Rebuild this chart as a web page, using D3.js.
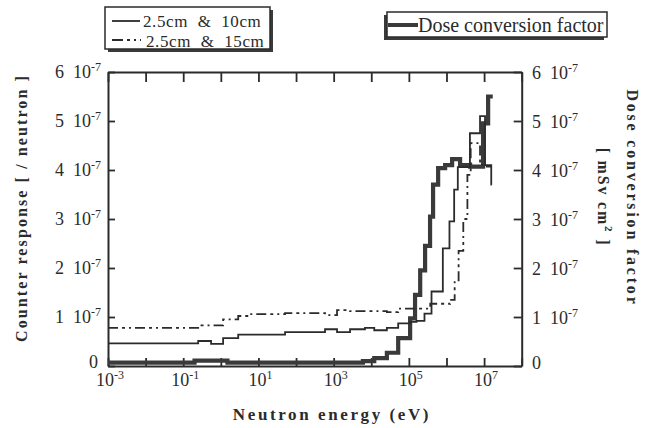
<!DOCTYPE html>
<html>
<head>
<meta charset="utf-8">
<script src="https://cdn.jsdelivr.net/npm/d3@7"></script>
<style>
body { margin: 0; background: #fff; }
text { font-family: "Liberation Serif", "Times New Roman", serif; fill: #2b2b2b; white-space: pre; }
</style>
</head>
<body>
<svg id="chart" width="654" height="428"></svg>
<script>
// 2.5cm & 10cm response (units of 1e-7), step bins in eV
const solidEdges = [1e-3, 0.25, 0.55, 1.15, 2.9, 51, 590, 1230, 2730, 6800, 1.2e4, 2.6e4, 5.2e4, 1.08e5, 1.6e5, 2.6e5, 4e5, 8e5, 1.2e6, 1.6e6, 2e6, 4.2e6, 7.8e6, 1.06e7, 1.55e7, 1.6e7];
const solidValues = [0.46, 0.51, 0.45, 0.57, 0.64, 0.69, 0.75, 0.69, 0.75, 0.78, 0.73, 0.78, 0.87, 0.9, 0.92, 1.07, 1.52, 2.4, 2.95, 3.6, 4.06, 4.75, 5.1, 4.1, 3.7];

// 2.5cm & 15cm response
const dashEdges = [1e-3, 0.25, 1.15, 2.9, 6, 51, 590, 1230, 2730, 2.6e4, 5.2e4, 3.7e5, 1.25e6, 1.65e6, 2.1e6, 2.8e6, 3.6e6, 4.4e6, 7.8e6, 1.06e7, 1.6e7];
const dashValues = [0.78, 0.83, 0.95, 1.02, 1.06, 1.08, 1.04, 1.14, 1.12, 1.1, 1.17, 1.27, 1.35, 1.75, 2.35, 3.0, 3.9, 4.55, 4.1, 4.07];

// dose conversion factor (mSv cm2, units of 1e-7)
const doseEdges = [1e-3, 0.2, 1.5, 6000, 1.2e4, 2.6e4, 5.2e4, 1.08e5, 1.46e5, 2e5, 2.7e5, 3.66e5, 4.4e5, 6e5, 9.2e5, 1.41e6, 2.3e6, 4.25e6, 9.4e6, 1.28e7, 1.7e7];
const doseValues = [0.07, 0.11, 0.07, 0.1, 0.16, 0.27, 0.57, 0.97, 1.45, 1.95, 2.45, 3.05, 3.7, 4.04, 4.1, 4.22, 4.1, 4.07, 4.95, 5.5];

const yTicks = [0, 1, 2, 3, 4, 5, 6];
const xTickExps = [-3, -2, -1, 0, 1, 2, 3, 4, 5, 6, 7, 8];
const xLabelExps = [-3, -1, 1, 3, 5, 7];
const legendLabels = ["2.5cm  &  10cm", "2.5cm  &  15cm"];
const doseLabel = "Dose conversion factor";

const ink = "#2b2b2b";
const svg = d3.select("#chart");

const x = d3.scaleLog().domain([1e-3, 1e8]).range([108, 521.7]);
const y = d3.scaleLinear().domain([0, 6]).range([366, 72]);

// axes, ticks pointing inward
const xTickVals = xTickExps.map(e => Math.pow(10, e));
function styleAxis(g) {
    g.select(".domain").attr("stroke", ink).attr("stroke-width", 2);
    g.selectAll(".tick line").attr("stroke", ink).attr("stroke-width", 1.8);
}
svg.append("g").attr("transform", "translate(0,366)")
    .call(d3.axisBottom(x).tickValues(xTickVals).tickSize(-8).tickSizeOuter(0).tickFormat(""))
    .call(styleAxis);
svg.append("g").attr("transform", "translate(0,72)")
    .call(d3.axisTop(x).tickValues(xTickVals).tickSize(-10).tickSizeOuter(0).tickFormat(""))
    .call(styleAxis);
svg.append("g").attr("transform", "translate(108,0)")
    .call(d3.axisLeft(y).tickValues(yTicks).tickSize(-7).tickSizeOuter(0).tickFormat(""))
    .call(styleAxis);
svg.append("g").attr("transform", "translate(521.7,0)")
    .call(d3.axisRight(y).tickValues(yTicks).tickSize(-8).tickSizeOuter(0).tickFormat(""))
    .call(styleAxis);

// tick labels
function yLabel(sel, v) {
    if (v === 0) { sel.text("0"); return; }
    sel.append("tspan").text(v + "  10");
    sel.append("tspan").attr("dy", -7).attr("font-size", 12).text("-7");
}
yTicks.forEach(v => {
    const dy = v === 0 ? 2 : 6;
    svg.append("text").attr("x", v === 0 ? 98 : 101).attr("y", y(v) + dy)
        .attr("text-anchor", "end").attr("font-size", 18)
        .call(s => yLabel(s, v));
    svg.append("text").attr("x", 532).attr("y", y(v) + dy + 1)
        .attr("font-size", 18)
        .call(s => yLabel(s, v));
});
xLabelExps.forEach(e => {
    const t = svg.append("text").attr("x", x(Math.pow(10, e)) + 2).attr("y", 386)
        .attr("text-anchor", "middle").attr("font-size", 18);
    t.append("tspan").text("10");
    t.append("tspan").attr("dy", -7).attr("font-size", 12).text(e < 0 ? "-" + (-e) : String(e));
});

// step curves
function stepPoints(edges, values) {
    const pts = values.map((v, i) => [edges[i], v]);
    pts.push([edges[edges.length - 1], values[values.length - 1]]);
    return pts;
}
const line = d3.line().x(d => x(d[0])).y(d => y(d[1])).curve(d3.curveStepAfter);

svg.append("path").datum(stepPoints(doseEdges, doseValues))
    .attr("d", line).attr("fill", "none").attr("stroke", "#3a3a3a").attr("stroke-width", 4.2);
svg.append("path").datum(stepPoints(solidEdges, solidValues))
    .attr("d", line).attr("fill", "none").attr("stroke", ink).attr("stroke-width", 1.8);
svg.append("path").datum(stepPoints(dashEdges, dashValues))
    .attr("d", line).attr("fill", "none").attr("stroke", ink).attr("stroke-width", 1.8)
    .attr("stroke-dasharray", "10,4,3,4,2,4");

// axis titles
svg.append("text").attr("transform", "translate(27,208) rotate(-90)")
    .attr("text-anchor", "middle").attr("font-size", 16).attr("font-weight", "bold")
    .attr("letter-spacing", 2.1).text("Counter response [ / neutron ]");
svg.append("text").attr("x", 332).attr("y", 420)
    .attr("text-anchor", "middle").attr("font-size", 17).attr("font-weight", "bold")
    .attr("letter-spacing", 2.6).text("Neutron energy (eV)");
svg.append("text").attr("transform", "translate(627,198) rotate(90)")
    .attr("text-anchor", "middle").attr("font-size", 16).attr("font-weight", "bold")
    .attr("letter-spacing", 2.8).text("Dose conversion factor");
const sub = svg.append("text").attr("transform", "translate(598,197) rotate(90)")
    .attr("text-anchor", "middle").attr("font-size", 16).attr("font-weight", "bold")
    .attr("letter-spacing", 1.8);
sub.append("tspan").text("[ mSv cm");
sub.append("tspan").attr("dy", -7).attr("font-size", 11).text("2");
sub.append("tspan").attr("dy", 7).text(" ]");

// legend boxes with drop shadows
function legendBox(x0, y0, w, h, dx, dy) {
    svg.append("rect").attr("x", x0 + dx).attr("y", y0 + dy).attr("width", w).attr("height", h).attr("fill", "#3a3a3a");
    svg.append("rect").attr("x", x0).attr("y", y0).attr("width", w).attr("height", h)
        .attr("fill", "#fff").attr("stroke", ink).attr("stroke-width", 1.5);
}
legendBox(105, 7, 165, 42, 3, 3);
svg.append("line").attr("x1", 112).attr("x2", 140).attr("y1", 21).attr("y2", 21)
    .attr("stroke", ink).attr("stroke-width", 1.8);
svg.append("line").attr("x1", 112).attr("x2", 141).attr("y1", 40).attr("y2", 40)
    .attr("stroke", ink).attr("stroke-width", 1.8).attr("stroke-dasharray", "11,4,3,4,2,4");
legendLabels.forEach((l, i) => {
    svg.append("text").attr("x", i === 0 ? 143 : 146).attr("y", 27 + i * 19.5)
        .attr("font-size", 17).attr("letter-spacing", 0.6).text(l);
});

legendBox(387, 12, 220, 25, -3, 3);
svg.append("line").attr("x1", 388).attr("x2", 418).attr("y1", 25).attr("y2", 25)
    .attr("stroke", "#3a3a3a").attr("stroke-width", 4);
svg.append("text").attr("x", 418).attr("y", 32).attr("font-size", 20).text(doseLabel);
</script>
</body>
</html>
